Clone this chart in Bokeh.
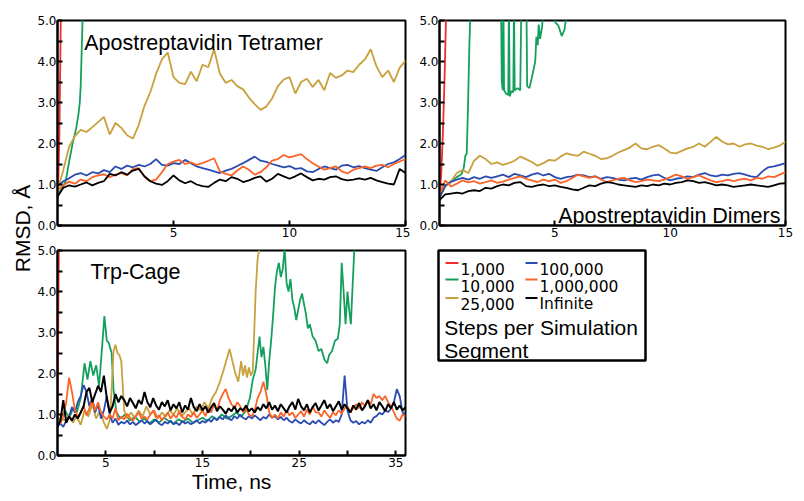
from math import pi
from bokeh.plotting import figure
from bokeh.models import (Range1d, FixedTicker, PrintfTickFormatter, Label)
from bokeh.layouts import row, column
from bokeh.embed import file_html
from bokeh.resources import INLINE

# ---------------- data ----------------
SERIES = ["1,000", "10,000", "25,000", "100,000", "1,000,000", "Infinite"]
COLORS = {"1,000": "#ee2e2a", "10,000": "#14a05c", "25,000": "#c8a03c",
          "100,000": "#2a4bb0", "1,000,000": "#fb6428", "Infinite": "#000000"}

tetra_t = [round(0.25 * i, 2) for i in range(61)]

tetra_red_t = [0, 0.04, 0.08, 0.11, 0.14, 0.18]
tetra_red = [0.72, 1.2, 2.2, 3.5, 5.0, 6.0]
tetra_green_t = [0, 0.2, 0.36, 0.5, 0.65, 0.8, 0.9, 0.96, 1.0, 1.04, 1.08, 1.12]
tetra_green = [0.75, 0.9, 1.1, 1.55, 2.0, 2.35, 2.7, 3.0, 3.4, 4.2, 5.0, 5.8]
tetra_gold = [0.86, 1.35, 1.92, 2.18, 2.33, 2.28, 2.40, 2.52, 2.65, 2.22,
              2.50, 2.38, 2.20, 2.12, 2.45, 2.92, 3.25, 3.70, 4.05, 4.22,
              3.62, 3.48, 3.45, 3.75, 3.52, 3.92, 3.86, 4.30, 3.70, 3.48,
              3.55, 3.40, 3.32, 3.12, 2.96, 2.82, 2.90, 3.10, 3.40, 3.56,
              3.62, 3.22, 3.50, 3.58, 3.38, 3.55, 3.30, 3.72, 3.60, 3.66,
              3.78, 3.74, 3.92, 4.05, 4.30, 3.88, 3.62, 3.78, 3.50, 3.85,
              4.02]
tetra_blue = [0.95, 1.08, 1.15, 1.24, 1.28, 1.22, 1.30, 1.27, 1.35, 1.30,
              1.44, 1.38, 1.46, 1.42, 1.48, 1.44, 1.50, 1.62, 1.48, 1.46,
              1.52, 1.50, 1.60, 1.52, 1.44, 1.40, 1.36, 1.32, 1.28, 1.34,
              1.38, 1.45, 1.52, 1.60, 1.68, 1.58, 1.55, 1.50, 1.46, 1.42,
              1.45, 1.38, 1.40, 1.32, 1.30, 1.38, 1.44, 1.40, 1.36, 1.46,
              1.48, 1.42, 1.45, 1.40, 1.36, 1.33, 1.42, 1.50, 1.54, 1.62,
              1.72]
tetra_orange = [0.86, 0.98, 1.07, 1.02, 1.12, 1.08, 1.18, 1.22, 1.25, 1.18,
                1.24, 1.28, 1.22, 1.38, 1.40, 1.18, 1.08, 1.12, 1.30, 1.50,
                1.56, 1.60, 1.50, 1.54, 1.48, 1.52, 1.58, 1.64, 1.32, 1.26,
                1.22, 1.34, 1.44, 1.36, 1.24, 1.30, 1.42, 1.58, 1.62, 1.72,
                1.66, 1.70, 1.74, 1.62, 1.52, 1.44, 1.36, 1.40, 1.44, 1.32,
                1.27, 1.36, 1.40, 1.44, 1.40, 1.46, 1.48, 1.42, 1.50, 1.56,
                1.62]
tetra_black = [0.70, 0.92, 0.98, 0.95, 1.00, 1.05, 0.98, 1.04, 1.08, 1.26,
               1.22, 1.30, 1.24, 1.34, 1.38, 1.20, 1.08, 1.02, 0.99, 1.08,
               1.22, 1.10, 1.03, 1.08, 1.00, 0.96, 0.94, 1.04, 1.12, 1.08,
               1.18, 1.14, 1.06, 1.10, 1.16, 1.20, 1.07, 1.14, 1.26, 1.20,
               1.14, 1.20, 1.27, 1.18, 1.10, 1.14, 1.12, 1.18, 1.20, 1.13,
               1.10, 1.12, 1.15, 1.12, 1.16, 1.10, 1.06, 1.02, 1.00, 1.38,
               1.28]

dimer_red_t = [0, 0.08, 0.15, 0.22, 0.28, 0.32]
dimer_red = [0.7, 1.3, 2.3, 3.6, 5.0, 5.8]
dimer_green_t = [0, 0.25, 0.5, 0.75, 0.95, 1.05, 1.12, 1.18, 1.24, 1.3, 1.36,
                 2.0, 2.66, 2.70, 2.74, 2.77, 2.80, 2.88, 2.98, 3.01, 3.04,
                 3.12, 3.2, 3.23, 3.26, 3.38, 3.5, 3.55, 3.62, 3.76, 3.80,
                 3.9, 4.02, 4.15, 4.2, 4.26, 4.3, 4.36, 4.45, 4.52, 4.6,
                 4.95, 5.02, 5.15, 5.3, 5.42, 5.52, 5.6]
dimer_green = [0.68, 0.95, 1.08, 1.18, 1.25, 1.4, 1.7, 1.75, 3.0, 4.5, 5.5,
               7.0, 6.0, 3.5, 3.3, 5.5, 3.3, 3.22, 3.18, 5.5, 3.15,
               3.28, 3.25, 5.5, 3.3, 3.35, 3.3, 5.5, 6.0, 6.0, 3.4,
               3.35, 3.65, 4.0, 4.6, 4.4, 4.9, 4.55, 4.85, 5.5, 6.0,
               5.5, 4.95, 4.88, 4.62, 4.78, 5.2, 6.5]
dimer_gold = [0.70, 0.95, 1.08, 1.28, 1.35, 1.28, 1.58, 1.70, 1.62, 1.50,
              1.54, 1.48, 1.52, 1.58, 1.68, 1.62, 1.55, 1.46, 1.52, 1.60,
              1.58, 1.68, 1.76, 1.72, 1.70, 1.80, 1.75, 1.70, 1.62, 1.64,
              1.70, 1.78, 1.84, 1.90, 2.00, 1.88, 1.86, 1.92, 1.96, 1.88,
              1.78, 1.76, 1.82, 1.88, 1.92, 2.00, 1.92, 2.04, 2.16, 2.05,
              1.98, 2.00, 1.92, 1.98, 2.00, 1.95, 1.92, 1.86, 1.90, 1.95,
              2.04]
dimer_blue = [0.68, 0.98, 1.06, 1.12, 1.16, 1.12, 1.18, 1.14, 1.20, 1.16,
              1.20, 1.24, 1.18, 1.26, 1.22, 1.18, 1.24, 1.28, 1.22, 1.26,
              1.18, 1.14, 1.18, 1.20, 1.24, 1.22, 1.18, 1.20, 1.14, 1.18,
              1.16, 1.12, 1.10, 1.14, 1.16, 1.12, 1.18, 1.22, 1.24, 1.16,
              1.10, 1.14, 1.16, 1.20, 1.18, 1.24, 1.28, 1.22, 1.20, 1.24,
              1.22, 1.26, 1.28, 1.24, 1.20, 1.18, 1.32, 1.42, 1.44, 1.48,
              1.52]
dimer_orange = [0.78, 1.10, 0.95, 1.02, 1.10, 1.05, 1.08, 1.02, 1.06, 1.10,
                1.04, 1.07, 1.12, 1.16, 1.20, 1.14, 1.10, 1.06, 1.12, 1.08,
                1.12, 1.04, 1.08, 1.16, 1.24, 1.20, 1.16, 1.20, 1.12, 1.06,
                1.10, 1.14, 1.16, 1.10, 1.06, 1.08, 1.12, 1.10, 1.08, 1.12,
                1.18, 1.24, 1.20, 1.14, 1.18, 1.22, 1.16, 1.10, 1.06, 1.08,
                1.12, 1.08, 1.12, 1.14, 1.10, 1.16, 1.14, 1.20, 1.18, 1.24,
                1.30]
dimer_black = [0.62, 0.76, 0.78, 0.80, 0.78, 0.84, 0.86, 0.84, 0.92, 0.90,
               0.96, 1.00, 0.98, 1.04, 1.06, 0.96, 0.94, 0.98, 1.00, 0.96,
               0.98, 0.94, 0.92, 0.88, 0.86, 0.92, 0.98, 0.96, 1.02, 1.06,
               1.04, 1.00, 0.98, 0.96, 0.94, 0.98, 0.96, 1.00, 0.98, 1.02,
               1.00, 1.04, 1.06, 1.10, 1.08, 1.04, 1.06, 1.02, 0.98, 1.00,
               0.98, 0.94, 0.96, 0.98, 1.00, 0.98, 0.96, 0.94, 0.98, 1.02,
               1.03]

trp_t = [round(0.3 * i, 2) for i in range(121)]

trp_red_t = [0, 0.05, 0.1, 0.15]
trp_red = [0.8, 2.0, 4.0, 5.5]
trp_green_t = [0, 0.4, 0.8, 1.2, 1.6, 2.0, 2.4, 2.8, 3.1, 3.4, 3.7, 4.0, 4.3,
               4.6, 4.85, 5.1, 5.3, 5.6, 5.8, 6.1, 6.5, 7.0, 7.5, 8.0, 8.5,
               9.0, 9.5, 10.0, 10.5, 11.0, 11.5, 12.0, 12.5, 13.0, 13.5, 14.0,
               14.5, 15.0, 15.5, 16.0, 16.5, 17.0, 17.5, 18.0, 18.5, 19.0,
               19.5, 19.9, 20.2, 20.5, 20.7, 20.9, 21.1, 21.3, 21.5, 21.7,
               21.9, 22.1, 22.3, 22.5, 22.7, 22.9, 23.1, 23.3, 23.5, 23.7,
               23.9, 24.1, 24.3, 24.5, 24.7, 24.9, 25.1, 25.3, 25.5, 25.7,
               25.9, 26.1, 26.4, 26.7, 27.0, 27.3, 27.6, 27.9, 28.1, 28.4,
               28.7, 29.0, 29.2, 29.4, 29.6, 29.8, 30.0, 30.2, 30.35, 30.5,
               30.7, 30.9]
trp_green = [0.80, 0.95, 1.10, 0.90, 1.15, 1.05, 1.40, 2.25, 1.85, 2.30, 1.95,
             2.20, 1.70, 2.60, 3.40, 2.80, 2.75, 2.50, 1.60, 1.05, 0.90, 1.00,
             0.85, 0.95, 0.82, 0.90, 0.78, 0.88, 0.80, 0.92, 0.84, 0.78, 0.88,
             0.82, 0.90, 0.80, 0.86, 0.92, 0.84, 0.96, 0.88, 1.00, 0.90, 0.96,
             1.05, 0.94, 1.10, 1.40, 1.85, 2.10, 2.50, 2.90, 2.40, 2.65, 2.20,
             1.60, 2.30, 2.80, 3.40, 4.10, 4.50, 4.70, 4.35, 4.55, 5.05, 4.20,
             4.00, 4.30, 3.80, 3.60, 3.30, 3.55, 3.80, 3.95, 3.70, 3.45, 3.10,
             3.20, 2.90, 2.80, 2.55, 2.60, 2.35, 2.25, 2.45, 2.55, 2.80, 2.85,
             3.20, 4.70, 4.00, 3.20, 4.00, 3.50, 3.20, 4.00, 5.00, 6.00]
trp_gold_t = [0, 0.4, 0.8, 1.2, 1.6, 2.0, 2.4, 2.8, 3.2, 3.6, 4.0, 4.4, 4.8,
              5.1, 5.4, 5.6, 5.8, 6.0, 6.2, 6.4, 6.6, 6.9, 7.2, 7.6, 8.0, 8.4,
              8.8, 9.2, 9.6, 10.0, 10.4, 10.8, 11.2, 11.6, 12.0, 12.4, 12.8,
              13.2, 13.6, 14.0, 14.4, 14.8, 15.2, 15.6, 16.0, 16.4, 16.8, 17.2,
              17.5, 17.8, 18.1, 18.4, 18.7, 19.0, 19.2, 19.4, 19.6, 19.8, 20.0,
              20.2, 20.35, 20.5, 20.7, 20.85, 21.0]
trp_gold = [0.75, 0.90, 0.85, 1.00, 0.80, 0.95, 0.75, 1.10, 0.95, 1.25, 0.90,
            1.10, 0.80, 0.65, 0.85, 1.60, 2.55, 2.70, 2.50, 2.45, 2.30, 1.10,
            0.90, 1.05, 0.92, 1.10, 0.95, 1.20, 1.00, 1.10, 0.90, 1.05, 0.95,
            1.10, 1.00, 1.15, 0.95, 1.05, 1.15, 1.00, 1.20, 1.10, 1.30, 1.15,
            1.40, 1.55, 1.80, 2.10, 2.35, 2.60, 2.30, 2.00, 1.80, 2.30, 1.95,
            2.20, 1.90, 2.15, 1.95, 2.05, 3.00, 4.00, 4.80, 5.00, 6.00]
trp_blue = [0.72, 0.78, 0.70, 0.85, 0.95, 1.18, 1.05, 1.30, 1.45, 1.72,
            1.55, 1.20, 1.40, 1.05, 1.25, 0.90, 1.10, 1.45, 1.00, 0.80,
            0.90, 0.75, 0.82, 0.78, 0.85, 0.76, 0.82, 0.74, 0.80, 0.86,
            0.78, 0.84, 0.76, 0.82, 0.88, 0.78, 0.74, 0.82, 0.78, 0.85,
            0.76, 0.80, 0.74, 0.84, 0.78, 0.82, 0.76, 0.80, 0.86, 0.78,
            0.84, 0.80, 0.88, 0.82, 0.92, 0.86, 0.94, 0.88, 0.98, 0.90,
            0.86, 0.96, 0.90, 1.00, 0.92, 0.88, 0.96, 0.90, 0.98, 0.92,
            0.86, 0.94, 0.90, 1.00, 0.92, 0.96, 0.88, 0.94, 0.86, 0.92,
            0.84, 0.80, 0.88, 0.82, 0.78, 0.86, 0.80, 0.76, 0.84, 0.78,
            0.86, 0.80, 0.74, 0.82, 0.88, 0.80, 0.86, 0.82, 1.00, 1.95,
            1.10, 0.86, 0.80, 0.84, 0.76, 0.82, 0.78, 0.86, 0.80, 0.92,
            0.96, 1.04, 1.00, 1.10, 1.06, 1.14, 1.30, 1.62, 1.45, 1.05,
            1.00]
trp_orange = [0.80, 0.78, 0.95, 1.30, 1.90, 1.55, 1.10, 0.95, 1.05, 1.20,
              0.98, 1.15, 1.35, 1.10, 1.30, 1.05, 0.95, 0.88, 1.00, 0.90,
              1.15, 0.86, 0.95, 0.88, 1.02, 0.92, 0.85, 0.96, 1.05, 0.90,
              0.95, 0.88, 1.00, 1.10, 0.92, 0.98, 0.86, 0.95, 1.05, 0.90,
              1.00, 0.92, 1.08, 0.95, 0.88, 1.00, 0.94, 1.05, 0.92, 1.00,
              1.10, 0.96, 1.15, 1.05, 1.25, 1.10, 1.35, 1.50, 1.62, 1.40,
              1.25, 1.15, 1.30, 1.20, 1.05, 1.15, 1.00, 0.95, 1.10, 1.40,
              1.55, 1.80, 1.50, 1.05, 0.92, 1.00, 0.90, 1.05, 0.95, 1.10,
              0.98, 1.05, 0.92, 1.00, 1.08, 0.95, 1.12, 1.00, 1.20, 1.05,
              1.05, 0.95, 1.10, 1.00, 0.92, 1.05, 0.98, 1.10, 1.02, 1.15,
              1.20, 1.05, 1.15, 1.25, 1.15, 1.30, 1.20, 1.35, 1.25, 1.50,
              1.40, 1.45, 1.35, 1.45, 1.30, 1.20, 1.05, 0.90, 0.85, 1.00,
              0.95]
trp_black = [0.70, 0.85, 1.35, 0.80, 0.95, 0.85, 1.00, 0.90, 1.05, 1.20,
             1.55, 1.65, 1.30, 1.50, 1.70, 1.55, 1.95, 1.40, 1.05, 1.20,
             1.50, 1.30, 1.45, 1.35, 1.20, 1.40, 1.28, 1.15, 1.35, 1.25,
             1.55, 1.30, 1.18, 1.40, 1.22, 1.12, 1.30, 1.20, 1.35, 1.10,
             1.25, 1.15, 1.30, 1.05, 1.22, 1.12, 1.40, 1.18, 1.08, 1.25,
             1.10, 1.20, 1.05, 1.18, 1.28, 1.08, 1.20, 1.12, 1.02, 1.15,
             1.08, 1.20, 1.05, 1.15, 1.10, 1.22, 1.08, 1.15, 1.05, 1.18,
             1.10, 1.25, 1.15, 1.30, 1.12, 1.22, 1.08, 1.25, 1.15, 1.05,
             1.20, 1.30, 1.12, 1.38, 1.20, 1.10, 1.25, 1.05, 1.18, 1.28,
             1.10, 1.22, 1.35, 1.15, 1.25, 1.08, 1.20, 1.32, 1.12, 1.25,
             1.15, 1.05, 1.22, 1.12, 1.28, 1.10, 1.20, 1.35, 1.15, 1.25,
             1.10, 1.30, 1.20, 1.08, 1.25, 1.15, 1.30, 1.12, 1.22, 1.10,
             1.18]

y_ticks = [0, 1, 2, 3, 4, 5]
y_minor = [0.5, 1.5, 2.5, 3.5, 4.5]
top_x_ticks = [5, 10, 15]
trp_x_ticks = [5, 10, 15, 20, 25, 30, 35]
trp_x_labels = {10: "", 20: "", 30: ""}

TICK_FONT = "DejaVu Sans"
TEXT_FONT = "Liberation Sans"


def panel(xmax, fw, fh, bl, br, bt, bb, xticks):
    p = figure(width=bl + fw + br, height=bt + fh + bb,
               frame_width=fw, frame_height=fh,
               x_range=Range1d(0, xmax), y_range=Range1d(0, 5),
               min_border_left=bl, min_border_right=br,
               min_border_top=bt, min_border_bottom=bb,
               output_backend="svg", toolbar_location=None)
    p.grid.visible = False
    p.outline_line_color = "black"
    p.outline_line_width = 2
    p.outline_line_alpha = 1
    p.background_fill_color = "white"
    p.border_fill_color = "white"
    p.xaxis.ticker = FixedTicker(ticks=xticks)
    p.yaxis.ticker = FixedTicker(ticks=y_ticks, minor_ticks=y_minor)
    p.yaxis.formatter = PrintfTickFormatter(format="%.1f")
    for ax in p.axis:
        ax.axis_line_width = 2
        ax.axis_line_color = "black"
        ax.major_tick_in = 5
        ax.major_tick_out = 0
        ax.minor_tick_in = 5
        ax.minor_tick_out = 0
        ax.major_tick_line_width = 2
        ax.minor_tick_line_width = 2
        ax.major_tick_line_color = "black"
        ax.minor_tick_line_color = "black"
        ax.major_label_text_font = TICK_FONT
        ax.major_label_text_font_size = "12px"
        ax.major_label_text_color = "black"
    p.yaxis.major_label_standoff = 1
    p.xaxis.major_label_standoff = 2
    return p


def add(p, xs, ys, name, width=1.8):
    return p.line(xs, ys, line_color=COLORS[name], line_width=width)


def label(p, text, x, y, size="21px", align="left", font=TEXT_FONT,
          baseline="alphabetic", angle=0):
    p.add_layout(Label(x=x, y=y, text=text, text_font=font,
                       text_font_size=size, text_color="black",
                       text_align=align, text_baseline=baseline,
                       angle=angle))


# Shared y label column (its frame covers the whole strip)
TOTAL_H = 243 + 252
YLAB_W = 34
py = figure(width=YLAB_W, height=TOTAL_H, frame_width=YLAB_W,
            frame_height=TOTAL_H,
            x_range=Range1d(0, YLAB_W), y_range=Range1d(0, TOTAL_H),
            min_border=0, output_backend="svg", toolbar_location=None)
py.axis.visible = False
py.grid.visible = False
py.outline_line_color = None
label(py, "RMSD, Å", 21.7, TOTAL_H - 228, align="center", baseline="middle",
      angle=pi / 2)

# Panel A: tetramer
pa = panel(15, 348, 205, 21, 5, 20, 18, top_x_ticks)
add(pa, tetra_red_t, tetra_red, "1,000")
add(pa, tetra_green_t, tetra_green, "10,000")
add(pa, tetra_t, tetra_gold, "25,000")
add(pa, tetra_t, tetra_blue, "100,000")
add(pa, tetra_t, tetra_orange, "1,000,000")
add(pa, tetra_t, tetra_black, "Infinite")
label(pa, "Apostreptavidin Tetramer", 1.15, 4.46, size="21.5px")

# Panel B: dimers
pb = panel(15, 346, 205, 29, 10, 20, 18, top_x_ticks)
add(pb, dimer_red_t, dimer_red, "1,000")
add(pb, dimer_green_t, dimer_green, "10,000")
add(pb, tetra_t, dimer_gold, "25,000")
add(pb, tetra_t, dimer_blue, "100,000")
add(pb, tetra_t, dimer_orange, "1,000,000")
add(pb, tetra_t, dimer_black, "Infinite")
label(pb, "Apostreptavidin Dimers", 14.78, 0.24, size="21.5px", align="right")

# Panel C: Trp-cage
pc = panel(36, 348, 205, 21, 5, 7, 40, trp_x_ticks)
pc.xaxis.major_label_overrides = trp_x_labels
pc.xaxis.axis_label = "Time, ns"
pc.xaxis.axis_label_text_font = TEXT_FONT
pc.xaxis.axis_label_text_font_size = "21px"
pc.xaxis.axis_label_text_font_style = "normal"
pc.xaxis.axis_label_text_color = "black"
pc.xaxis.axis_label_standoff = 0
add(pc, trp_red_t, trp_red, "1,000")
add(pc, trp_green_t, trp_green, "10,000")
add(pc, trp_gold_t, trp_gold, "25,000")
add(pc, trp_t, trp_blue, "100,000")
add(pc, trp_t, trp_orange, "1,000,000")
add(pc, trp_t, trp_black, "Infinite", width=2.0)
label(pc, "Trp-Cage", 3.41, 4.47, size="21.5px")

# Panel D: legend box (pixel-scaled frame, 207 x 110)
pd = figure(width=28 + 207 + 150, height=7 + 110 + 135,
            frame_width=207, frame_height=110,
            x_range=Range1d(0, 207), y_range=Range1d(0, 110),
            min_border_left=28, min_border_right=150,
            min_border_top=7, min_border_bottom=135,
            output_backend="svg", toolbar_location=None)
pd.axis.visible = False
pd.grid.visible = False
pd.outline_line_color = "black"
pd.outline_line_width = 2.5
pd.outline_line_alpha = 1

# legend layout: two columns of three entries
key_x0 = [7, 7, 7, 87, 87, 87]
key_x1 = [20, 20, 20, 99, 99, 99]
key_y = [97.5, 81, 62.5, 97.5, 81, 62.5]
lab_x = [22, 22, 22, 101, 101, 101]
lab_y = [91.7, 75, 56.7, 91.7, 75, 56.7]
pd.segment(x0=key_x0, y0=key_y, x1=key_x1, y1=key_y,
           line_color=[COLORS[s] for s in SERIES], line_width=2)
for s, x, y in zip(SERIES, lab_x, lab_y):
    label(pd, s, x, y, size="15.5px", font=TICK_FONT)
label(pd, "Steps per Simulation", 5.7, 32.7)
label(pd, "Segment", 5.7, 10)

layout = row(py, column(row(pa, pb), row(pc, pd)))
open("out.html", "w").write(file_html(layout, INLINE))
